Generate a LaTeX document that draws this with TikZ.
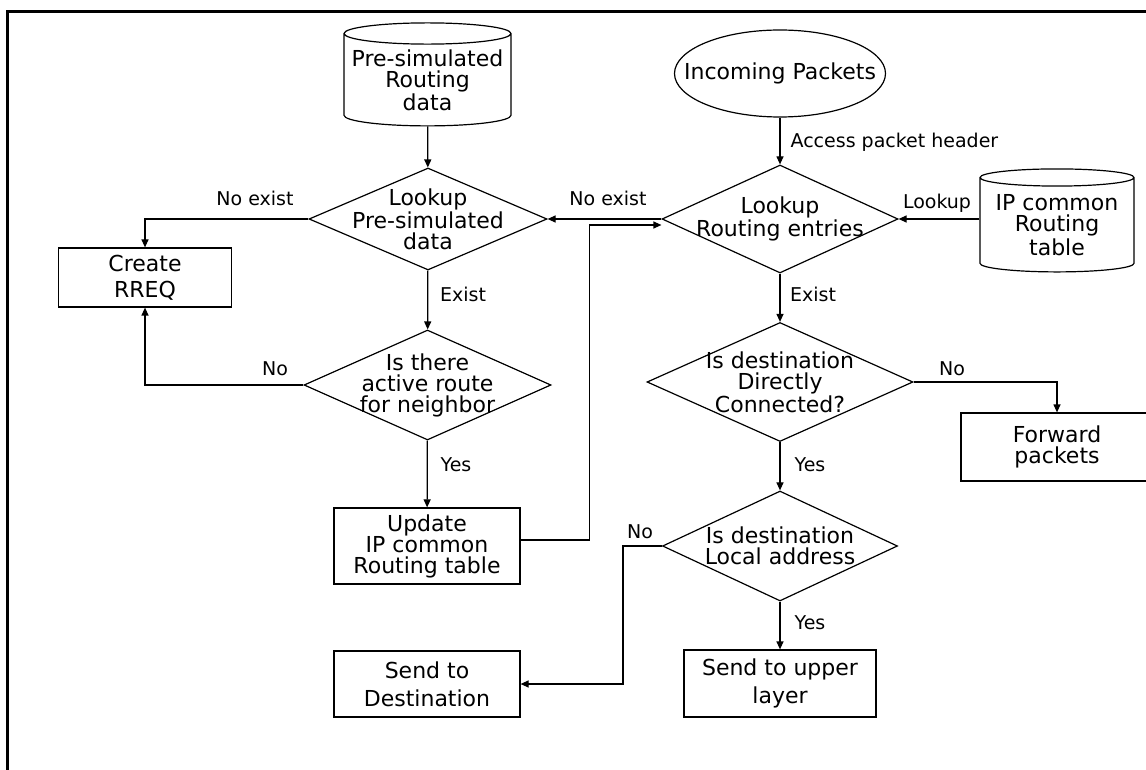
\documentclass[tikz,border=0pt]{standalone}
\usepackage{fontspec}
\setmainfont{DejaVu Sans}
\usetikzlibrary{shapes.geometric,arrows.meta}
\newcommand{\nodefont}{\fontsize{11}{10.5}\selectfont}
\newcommand{\lblfont}{\fontsize{9.5}{11}\selectfont}
\tikzset{
  % flowchart shapes
  box/.style={draw, rectangle, inner sep=0pt, align=center, font=\nodefont},
  decision/.style={draw, diamond, inner sep=0pt},
  dtext/.style={align=center, font=\nodefont, inner sep=0pt},
  store/.style={draw, cylinder, shape border rotate=90, aspect=0.14,
    inner sep=0pt, align=center, font=\nodefont},
  term/.style={draw, ellipse, inner sep=0pt},
  % branch labels
  lbl/.style={font=\lblfont, inner sep=0pt},
  arr/.style={-{Triangle[length=4pt,width=3.5pt]}},
}

\begin{document}
\begin{tikzpicture}[x=0.5pt,y=-0.5pt,line width=0.6pt]
\useasboundingbox (0,0) rectangle (1146,770);
\clip (0,0) rectangle (1146,770);
\draw[line width=1.5pt] (7,770) -- (7,11.5) -- (1146,11.5);

% left column
\node[store, minimum width=83.5pt, minimum height=51.5pt] (presim) at (427.5,80) {Pre-simulated\\Routing\\data};
\node[decision, minimum width=119pt, minimum height=51pt,
  label={[dtext]center:Lookup\\Pre-simulated\\data}] (dpre) at (428,219) {};
\node[box, minimum width=86.5pt, minimum height=29.5pt, font=\fontsize{11}{13}\selectfont] (rreq) at (145,277.5) {Create\\RREQ};
\node[decision, minimum width=123.5pt, minimum height=55pt,
  label={[dtext]center:Is there\\active route\\for neighbor}] (dact) at (427.5,385) {};
\node[box, minimum width=93pt, minimum height=38pt] (upd) at (427,546) {Update\\IP common\\Routing table};
\node[box, minimum width=93pt, minimum height=33pt, font=\fontsize{11}{14}\selectfont] (sdest) at (427,684) {Send to\\Destination};

% right column
\node[term, minimum width=105.5pt, minimum height=43.5pt,
  label={[dtext]center:Incoming Packets}] (inc) at (780,73.5) {};
\node[decision, minimum width=118pt, minimum height=54pt,
  label={[dtext]center:Lookup\\Routing entries}] (dlook) at (780,219) {};
\node[store, minimum width=77pt, minimum height=51.5pt] (iptab) at (1057,225) {IP common\\Routing\\table};
\node[decision, minimum width=133pt, minimum height=59.5pt,
  label={[dtext]center:Is destination\\Directly\\Connected?}] (ddir) at (780,382) {};
\node[box, minimum width=96pt, minimum height=34pt] (fwd) at (1057,447) {Forward\\packets};
\node[decision, minimum width=117.5pt, minimum height=55pt,
  label={[dtext]center:Is destination\\Local address}] (dloc) at (780,546) {};
\node[box, minimum width=96pt, minimum height=33.5pt, font=\fontsize{11}{14}\selectfont] (supp) at (780,683.5) {Send to upper\\layer};

% connectors
\draw[arr] (presim) -- (dpre);
\draw[arr] (dpre.west) -| (rreq.north);
\draw[arr] (dpre) -- (dact);
\draw[arr] (dact.west) -| (rreq.south);
\draw[arr] (dact) -- (upd);
\draw[arr] ([yshift=3pt]upd.east) -- ++(69,0) |- ([yshift=-3pt]dlook.west);
\draw[arr] (inc) -- (dlook);
\draw[arr] (dlook.west) -- (dpre.east);
\draw[arr] (iptab.west |- dlook.east) -- (dlook.east);
\draw[arr] (dlook) -- (ddir);
\draw[arr] (ddir.east) -| (fwd.north);
\draw[arr] (ddir) -- (dloc);
\draw[arr] (dloc.west) -- ++(-39,0) |- (sdest.east);
\draw[arr] (dloc) -- (supp);

% branch labels
\node[lbl] (l1) at (255,198) {No exist};
\node[lbl] (l2) at (463,294) {Exist};
\node[lbl] (l3) at (275,369) {No};
\node[lbl] (l4) at (456,465) {Yes};
\node[lbl] (l5) at (608,198) {No exist};
\node[lbl, anchor=west] (l6) at (790,142) {Access packet header};
\node[lbl] (l7) at (937,203) {Lookup};
\node[lbl] (l8) at (813,294) {Exist};
\node[lbl] (l9) at (952,369) {No};
\node[lbl] (l10) at (810,465) {Yes};
\node[lbl] (l11) at (640,532) {No};
\node[lbl] (l12) at (810,623) {Yes};
\end{tikzpicture}
\end{document}
